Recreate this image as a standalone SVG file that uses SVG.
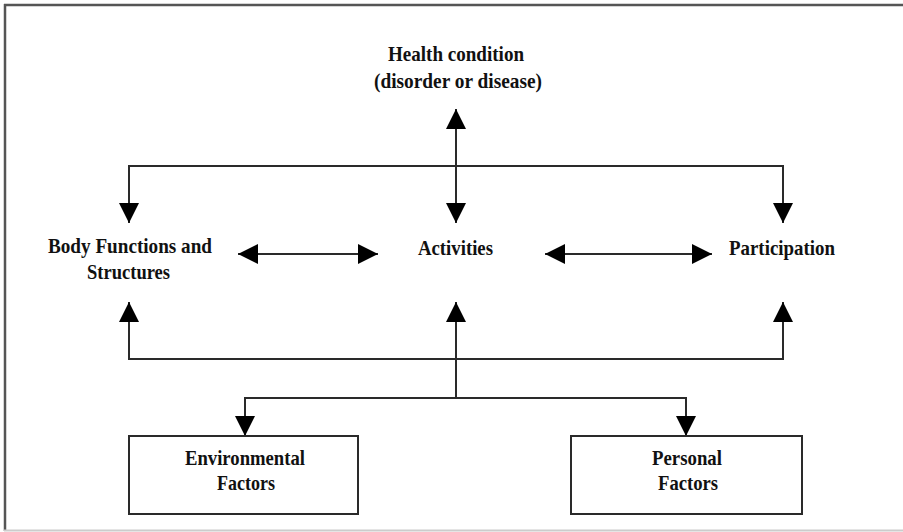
<svg xmlns="http://www.w3.org/2000/svg" width="903" height="532" viewBox="0 0 903 532">
<style>
.t{font-family:"Liberation Serif","Times New Roman",serif;font-weight:bold;font-size:22px;fill:#111;text-anchor:start}
.ln{stroke:#2a2a2a;stroke-width:2;fill:none}
.box{stroke:#2a2a2a;stroke-width:2;fill:#fff}
</style>
<defs>
<marker id="ah" viewBox="0 0 20 20" refX="20" refY="10" markerWidth="20" markerHeight="20" markerUnits="userSpaceOnUse" orient="auto-start-reverse">
<path d="M0,0 L20,10 L0,20 Z" fill="#000"/>
</marker>
</defs>
<rect x="0" y="0" width="903" height="532" fill="#fff"/>
<g id="frame">
<line x1="5" y1="4" x2="5" y2="531" stroke="#555" stroke-width="2.5"/>
<line x1="4" y1="5" x2="903" y2="5" stroke="#555" stroke-width="2.5"/>
<line x1="4" y1="530.5" x2="903" y2="530.5" stroke="#ccc" stroke-width="2"/>
</g>
<g id="connectors">
<line class="ln" x1="456" y1="109" x2="456" y2="223" marker-start="url(#ah)" marker-end="url(#ah)"/>
<polyline class="ln" points="129,223 129,166 783,166 783,223" marker-start="url(#ah)" marker-end="url(#ah)"/>
<line class="ln" x1="238" y1="254" x2="378" y2="254" marker-start="url(#ah)" marker-end="url(#ah)"/>
<line class="ln" x1="545" y1="254" x2="712" y2="254" marker-start="url(#ah)" marker-end="url(#ah)"/>
<polyline class="ln" points="129,302 129,359 783,359 783,302" marker-start="url(#ah)" marker-end="url(#ah)"/>
<line class="ln" x1="456" y1="302" x2="456" y2="398" marker-start="url(#ah)"/>
<polyline class="ln" points="245,436 245,398 686,398 686,436" marker-start="url(#ah)" marker-end="url(#ah)"/>
</g>
<g id="health">
<text class="t" x="388" y="61" textLength="136" lengthAdjust="spacingAndGlyphs">Health condition</text>
<text class="t" x="374" y="88" textLength="168" lengthAdjust="spacingAndGlyphs">(disorder or disease)</text>
</g>
<g id="body">
<text class="t" x="48" y="253" textLength="164" lengthAdjust="spacingAndGlyphs">Body Functions and</text>
<text class="t" x="87" y="279" textLength="83" lengthAdjust="spacingAndGlyphs">Structures</text>
</g>
<g id="activities">
<text class="t" x="418" y="255" textLength="75" lengthAdjust="spacingAndGlyphs">Activities</text>
</g>
<g id="participation">
<text class="t" x="729" y="255" textLength="106" lengthAdjust="spacingAndGlyphs">Participation</text>
</g>
<g id="environmental">
<rect class="box" x="129" y="436" width="229" height="78"/>
<text class="t" x="185" y="465" textLength="120" lengthAdjust="spacingAndGlyphs">Environmental</text>
<text class="t" x="217" y="490" textLength="58" lengthAdjust="spacingAndGlyphs">Factors</text>
</g>
<g id="personal">
<rect class="box" x="571" y="436" width="231" height="78"/>
<text class="t" x="652" y="465" textLength="70" lengthAdjust="spacingAndGlyphs">Personal</text>
<text class="t" x="658" y="490" textLength="60" lengthAdjust="spacingAndGlyphs">Factors</text>
</g>
</svg>
